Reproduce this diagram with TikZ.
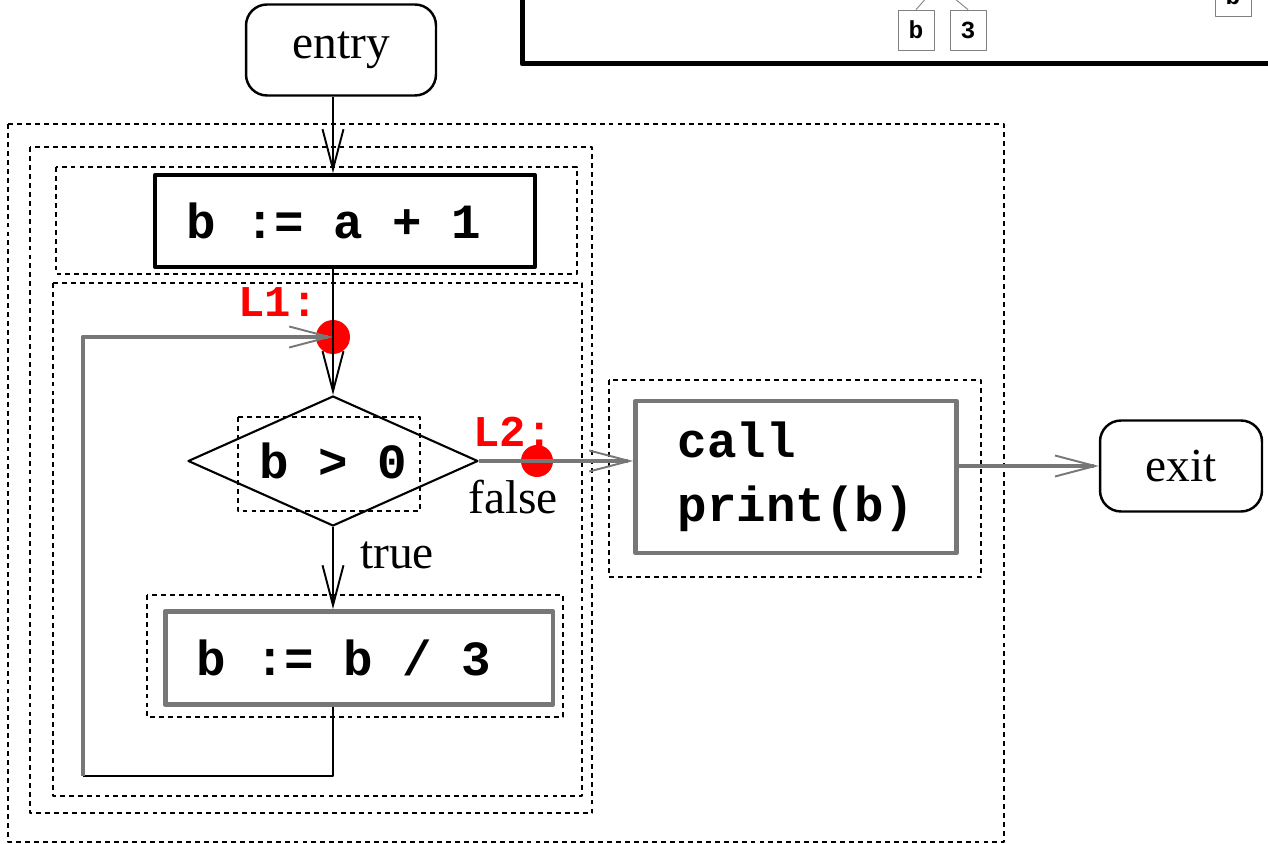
\documentclass[tikz,border=0pt]{standalone}
\usepackage{fontspec}
\setmainfont{Liberation Serif}
\setmonofont{Liberation Mono}
\usetikzlibrary{shapes.geometric,arrows.meta}
\definecolor{edgegray}{HTML}{777777}
% bold code font at a given size
\newcommand\codefont[1]{\fontsize{#1}{1.3\dimexpr#1pt\relax}\selectfont
  \ttfamily\bfseries}
\tikzset{
  code/.style={font=\codefont{28}},
  region/.style={dash pattern=on 2.8pt off 2.3pt, line width=0.8pt},
  terminal/.style={draw, rounded corners=0.42cm, line width=1.4pt,
    font=\fontsize{27}{32}\selectfont, minimum height=1.82cm},
  stmt/.style={draw, code, inner ysep=0pt, inner xsep=0.62cm},
  test/.style={diamond, draw, code, line width=1.2pt, inner sep=0pt,
    aspect=2.23, minimum width=5.8cm, minimum height=2.6cm},
  link/.style={line width=1.1pt},
  heavy/.style={line width=2.8pt, draw=edgegray},
  flow/.style={-{Straight Barb[length=0.8cm,width=0.42cm,line width=1.1pt]}},
  labeltag/.style={text=red, font=\codefont{25}},
  edgelabel/.style={font=\fontsize{27}{32}\selectfont},
  leaf/.style={draw=gray, line width=0.5pt, minimum width=0.72cm,
    minimum height=0.8cm, inner sep=0pt, font=\codefont{14}},
}
\begin{document}
\begin{tikzpicture}[x=0.02cm, y=-0.02cm, line join=round]
  \useasboundingbox (0,0) rectangle (1268,844);
  \clip (0,0) rectangle (1268,844);

  % expression tree, cut at the top edge
  \draw[line width=0.1cm] (522,-20) |- (1300,64);
  \coordinate (op) at (938,-15);
  \node[leaf] (lb) at (916,30) {b};
  \node[leaf] (l3) at (968,30) {3};
  \node[leaf] (lr) at (1233,-4) {b};
  \draw[gray, line width=0.5pt] (lb.north) -- (op) (l3.north) -- (op);

  % nested regions
  \draw[region] (8,124) rectangle (1004,842);
  \draw[region] (30,147) rectangle (592,813);
  \draw[region] (56,167) rectangle (577,274);
  \draw[region] (53,283) rectangle (582,796);
  \draw[region] (238,417) rectangle (420,511);
  \draw[region] (147,595) rectangle (563,717);
  \draw[region] (609,380) rectangle (981,577);

  % blocks
  \node[terminal, minimum width=3.8cm] (entry) at (341,50) {entry};
  \node[stmt, line width=2.3pt, minimum height=1.84cm]
    (init) at (345,221) {\makebox[6.36cm][l]{b := a + 1}};
  \node[test] (cond) at (333,461) {b > 0};
  \node[stmt, draw=edgegray, line width=2.8pt, minimum height=1.86cm]
    (div) at (359,658) {\makebox[6.52cm][l]{b := b / 3}};
  \node[stmt, draw=edgegray, line width=2.8pt, inner xsep=0.84cm,
    align=left, text width=4.74cm, minimum height=3.04cm] (call)
    at (796,477) {call\\print(b)};
  \node[terminal, minimum width=3.24cm] (exit) at (1181,466) {exit};

  % labels
  \coordinate (L1) at (333,337);
  \coordinate (L2) at (537,461);
  \coordinate (back) at (83,776);
  \fill[red] (L1) circle (0.34cm);
  \fill[red] (L2) circle (0.32cm);
  \node[labeltag] (l1text) at (278,302) {L1:};
  \node[labeltag] (l2text) at (513,432) {L2:};

  % control flow
  \draw[link, flow] (entry.south -| L1) -- (init.north -| L1);
  \draw[link, flow] (init.south -| L1) -- (cond.north);
  \draw[heavy, flow] (cond.east) -- (cond.east -| call.west);
  \draw[link, flow] (cond.south) -- (cond.south |- div.north);
  \draw[link] (L1 |- div.south) -- (L1 |- back) -- (back);
  \draw[heavy, flow] (back) |- (L1);
  \draw[heavy, flow] (call.east |- exit.west) -- (exit.west);
  \node[edgelabel] (ftext) at (513,497) {false};
  \node[edgelabel] (ttext) at (397,555) {true};
\end{tikzpicture}
\end{document}
